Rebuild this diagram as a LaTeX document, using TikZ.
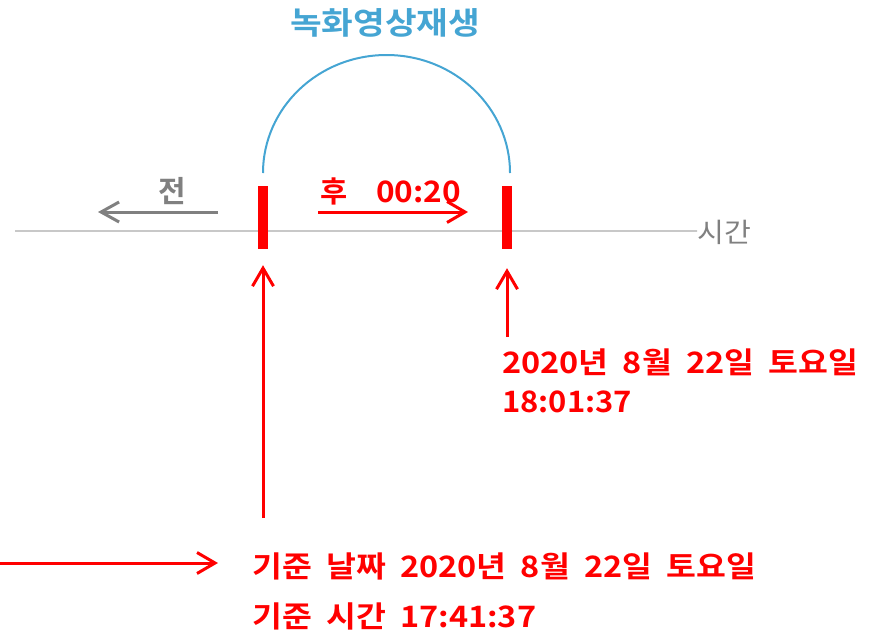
\documentclass[tikz,border=0pt]{standalone}
\usepackage{graphicx}
\usepackage{fontspec}
\setmainfont{Noto Sans CJK KR}[BoldFont={* Bold}]
\usetikzlibrary{arrows.meta}
\definecolor{arcblue}{HTML}{45A5D3}
\definecolor{tgray}{HTML}{808080}
\definecolor{lgray}{HTML}{C8C8C8}
\definecolor{tred}{HTML}{FF0000}
\newcommand\widen[2]{\scalebox{#1}[1]{#2}}
\newcommand\wgap{\hspace{13pt}}
\tikzset{
  bar/.style={fill=tred,draw=none,minimum width=10pt,minimum height=63pt,inner sep=0pt},
  redarr/.style={draw=tred,line width=3pt,-{Straight Barb[length=18pt,width=21pt,line width=3pt]}},
  grayarr/.style={draw=tgray,line width=3pt,-{Straight Barb[length=18pt,width=20pt,line width=3pt]}},
  bigtxt/.style={font=\bfseries\fontsize{29.5}{29.5}\selectfont,text=tred,inner sep=0pt},
}
\begin{document}
\begin{tikzpicture}[x=1pt,y=-1pt]
\useasboundingbox (0,0) rectangle (874,635);
% time axis
\node[anchor=west,text=tgray,inner sep=0pt,font=\fontsize{27}{27}\selectfont] (tl) at (697,232) {\widen{1.08}{시간}};
\coordinate (t0) at (15,231);
\draw[lgray,line width=2pt] (t0) -- (tl.west |- t0) -- ++(-8,0);
% bars
\node[bar] (b1) at (263,217.5) {};
\node[bar] (b2) at (507,217.5) {};
% arc and title
\coordinate (a1) at (263,173);
\draw[arcblue,line width=2pt] (a1) arc[start angle=180,end angle=360,x radius=123.5,y radius=118];
\node[font=\bfseries\fontsize{31}{31}\selectfont,text=arcblue,inner sep=0pt] (title) at (385,23) {\widen{1.11}{녹화영상재생}};
% before / after
\node[font=\bfseries\fontsize{30}{30}\selectfont,text=tgray,inner sep=0pt] (jeon) at (172,191) {전};
\coordinate (g1) at (218,212);
\coordinate (g2) at (98,212);
\draw[grayarr] (g1) -- (g2);
\node[bigtxt,anchor=base west] (hu) at (320,202) {후};
\node[bigtxt,anchor=base west] (dur) at (376,202) {\widen{1.07}{00:20}};
\coordinate (r1) at (318,212);
\coordinate (r2) at (468,212);
\draw[redarr] (r1) -- (r2);
% right label
\node[bigtxt,anchor=base west] (rt1) at (502,373) {\widen{1.1}{2020년\wgap 8월\wgap 22일\wgap 토요일}};
\node[bigtxt,anchor=base west] (rt2) at (502,412) {\widen{1.05}{18:01:37}};
\coordinate (u2) at (507,337);
\draw[redarr,shorten >=19pt] (u2) -- (b2.south);
% bottom label
\node[bigtxt,anchor=base west] (bt1) at (252,577) {\widen{1.1}{기준\wgap 날짜\wgap 2020년\wgap 8월\wgap 22일\wgap 토요일}};
\node[bigtxt,anchor=base west] (bt2) at (252,627) {\widen{1.1}{기준\wgap 시간\wgap 17:41:37}};
\coordinate (u1) at (263,518);
\draw[redarr,shorten >=16pt] (u1) -- (b1.south);
\coordinate (h0) at (0,563);
\coordinate (h1) at (218,563);
\draw[redarr] (h0) -- (h1);
\end{tikzpicture}
\end{document}
